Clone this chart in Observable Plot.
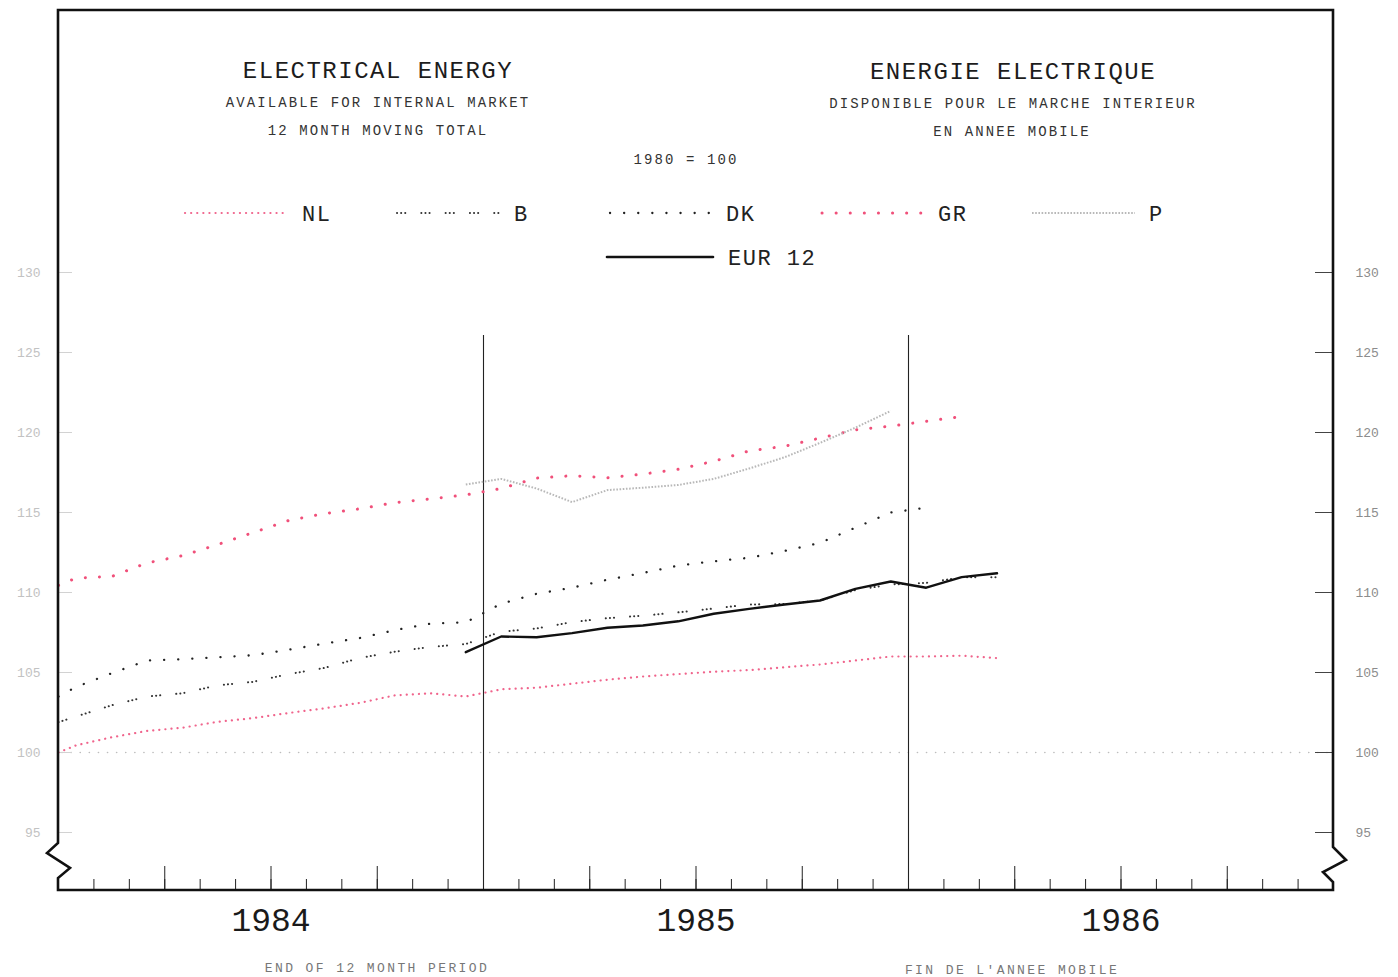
<!DOCTYPE html>
<html>
<head>
<meta charset="utf-8">
<script src="https://cdn.jsdelivr.net/npm/d3@7"></script>
<script src="https://cdn.jsdelivr.net/npm/@observablehq/plot@0.6"></script>
<style>
  html, body { margin: 0; padding: 0; background: #fff; }
  #wrap { position: relative; width: 1398px; height: 977px; font-family: "Liberation Mono", "DejaVu Sans Mono", monospace; }
  #wrap svg.plot { position: absolute; left: 0; top: 0; }
  .t { position: absolute; white-space: nowrap; transform: translate(-50%, -50%); line-height: 1; }
  .title { font-size: 24px; letter-spacing: 1.5px; color: #1c1c1c; }
  .sub { font-size: 14px; letter-spacing: 2.1px; color: #333; }
  .cap { font-size: 13px; letter-spacing: 2.4px; color: #777; }
  #legend { position: absolute; left: 0; top: 0; }
</style>
</head>
<body>
<div id="wrap"></div>
<script>
// ---------- data (index 1980 = 100), monthly 12-month moving totals ----------
// month positions: 0 = start of Jan 1984; monthly values plotted at mid-month
const seriesNames = ["NL", "B", "DK", "GR", "P", "EUR 12"];

const nlFirst = 0, nlStart = 100.0;
const nlValues = [100.45,100.95,101.35,101.55,101.92,102.15,102.47,102.76,103.1,103.57,103.7,103.5,103.95,104.05,104.3,104.55,104.75,104.9,105.05,105.15,105.33,105.5,105.75,106.0,106.0,106.05,105.9];

const bFirst = 0, bStart = 101.9;
const bValues = [102.25,102.95,103.5,103.7,104.2,104.42,104.9,105.28,105.9,106.3,106.6,106.78,107.55,107.75,108.15,108.4,108.55,108.76,109.0,109.25,109.28,109.5,110.15,110.5,110.6,110.95,110.95];

const dkFirst = 0, dkStart = 103.5;
const dkValues = [104.1,104.95,105.75,105.83,105.95,106.08,106.43,106.8,107.15,107.65,108.05,108.14,109.3,109.92,110.3,110.8,111.22,111.68,111.95,112.17,112.6,113.1,114.05,115.0,115.3];

const grFirst = 0, grStart = 110.45;
const grValues = [110.9,111.0,111.85,112.3,113.0,113.75,114.5,114.93,115.23,115.62,115.85,116.1,116.5,117.15,117.3,117.17,117.4,117.7,118.2,118.85,119.14,119.65,120.17,120.4,120.7,121.0];

const pFirst = 11, pStart = null;
const pValues = [116.75,117.1,116.5,115.65,116.4,116.55,116.72,117.1,117.75,118.45,119.35,120.3,121.35];

const eurFirst = 11, eurStart = null;
const eurValues = [106.27,107.25,107.2,107.46,107.8,107.94,108.2,108.67,108.98,109.25,109.5,110.23,110.69,110.3,110.96,111.2];

const yTicks = [95, 100, 105, 110, 115, 120, 125, 130];
const baseLine = [100];
const monthTicks = d3.range(1, 36);
const quarterTicks = [3, 6, 9, 15, 18, 21, 27, 30, 33];
const yearBreaks = [12, 24];
const yearCenters = [6, 18, 30];
const yearLabels = ["1984", "1985", "1986"];

// ---------- build tables ----------
function build(name, first, start, values) {
  const pts = [];
  if (start != null) pts.push({series: name, month: first, value: start});
  values.forEach((v, i) => pts.push({series: name, month: first + i + 0.5, value: v}));
  return pts;
}
const nl = build("NL", nlFirst, nlStart, nlValues);
const b = build("B", bFirst, bStart, bValues);
const dk = build("DK", dkFirst, dkStart, dkValues);
const gr = build("GR", grFirst, grStart, grValues);
const p = build("P", pFirst, pStart, pValues);
const eur = build("EUR 12", eurFirst, eurStart, eurValues);
const years = yearCenters.map((m, i) => ({month: m, label: yearLabels[i]}));

// ---------- styles ----------
const styles = {
  "NL":     {stroke: "#f0648c", strokeWidth: 2.2, strokeDasharray: "0.1,6",  strokeLinecap: "round"},
  "B":      {stroke: "#333",    strokeWidth: 2.0, strokeDasharray: "0.1,4,0.1,4,0.1,16", strokeLinecap: "round"},
  "DK":     {stroke: "#222",    strokeWidth: 2.3, strokeDasharray: "0.1,14", strokeLinecap: "round"},
  "GR":     {stroke: "#f0507a", strokeWidth: 3.0, strokeDasharray: "0.1,14", strokeLinecap: "round"},
  "P":      {stroke: "#b8b8b8", strokeWidth: 2.0, strokeDasharray: "1.6,1.6", strokeLinecap: "butt"},
  "EUR 12": {stroke: "#111",    strokeWidth: 2.4, strokeDasharray: null,     strokeLinecap: "round"}
};

const W = 1398, H = 977, mL = 58, mR = 65, mT = 10, mB = 87;
const innerW = W - mL - mR, innerH = H - mT - mB;

// frame with scale-break zigzags on both sides
function breakFrame(index, scales, values, dims) {
  const L = dims.marginLeft, R = dims.width - dims.marginRight;
  const T = dims.marginTop, B = dims.height - dims.marginBottom;
  const d = `M${L},${B} L${L},${B-12} L${L+12},${B-22} L${L-11},${B-37} L${L},${B-47} L${L},${T} ` +
            `L${R},${T} L${R},${B-43} L${R+13},${B-30} L${R-10},${B-18} L${R},${B-8} L${R},${B} Z`;
  return d3.create("svg:path").attr("d", d).attr("fill", "none")
    .attr("stroke", "#111").attr("stroke-width", 2.6).attr("stroke-linejoin", "miter").node();
}

const lineMark = (data) => Plot.line(data, {x: "month", y: "value", curve: "linear", ...styles[data[0].series]});

const chart = Plot.plot({
  width: W, height: H,
  marginLeft: mL, marginRight: mR, marginTop: mT, marginBottom: mB,
  className: "plot",
  style: {fontFamily: "Liberation Mono, DejaVu Sans Mono, monospace", background: "transparent", overflow: "visible"},
  x: {domain: [0, 36], axis: null},
  y: {domain: [91.375, 146.375], axis: null},
  marks: [
    // baseline 1980 = 100
    Plot.ruleY(baseLine, {y: d => d, stroke: "#bdbdbd", strokeWidth: 1.6, strokeDasharray: "0.1,9", strokeLinecap: "round", insetLeft: 4}),
    // left & right y ticks
    Plot.tickY(yTicks, {y: d => d, stroke: "#d2d2d2", strokeWidth: 1, insetRight: innerW - 14}),
    Plot.tickY(yTicks, {y: d => d, stroke: "#444", strokeWidth: 1, insetLeft: innerW - 18}),
    Plot.axisY(yTicks, {anchor: "left", label: null, tickSize: 0, tickPadding: 18, fontSize: 13, fill: "#c2c2c2", tickFormat: d => String(d)}),
    Plot.axisY(yTicks, {anchor: "right", label: null, tickSize: 0, tickPadding: 22, fontSize: 13, fill: "#8c8c8c", tickFormat: d => String(d)}),
    // month ticks
    Plot.tickX(monthTicks, {x: d => d, stroke: "#222", strokeWidth: 1, insetTop: innerH - 11}),
    Plot.tickX(quarterTicks, {x: d => d, stroke: "#222", strokeWidth: 1, insetTop: innerH - 24}),
    Plot.tickX(yearBreaks, {x: d => d, stroke: "#222", strokeWidth: 1.1, insetTop: 325}),
    // year labels
    Plot.text(years, {x: "month", text: "label", frameAnchor: "bottom", dy: 40, fontSize: 33, fill: "#1a1a1a"}),
    // series
    lineMark(nl), lineMark(b), lineMark(dk), lineMark(gr), lineMark(p), lineMark(eur),
    breakFrame
  ]
});

const wrap = document.getElementById("wrap");
wrap.appendChild(chart);

// ---------- titles & captions ----------
const texts = [
  {cls: "title", x: 378,  y: 72,  s: "ELECTRICAL ENERGY"},
  {cls: "sub",   x: 378,  y: 103, s: "AVAILABLE FOR INTERNAL MARKET"},
  {cls: "sub",   x: 378,  y: 131, s: "12 MONTH MOVING TOTAL"},
  {cls: "title", x: 1013, y: 73,  s: "ENERGIE ELECTRIQUE"},
  {cls: "sub",   x: 1013, y: 104, s: "DISPONIBLE POUR LE MARCHE INTERIEUR"},
  {cls: "sub",   x: 1012, y: 132, s: "EN ANNEE MOBILE"},
  {cls: "sub",   x: 686,  y: 160, s: "1980 = 100"},
  {cls: "cap",   x: 377,  y: 968, s: "END OF 12 MONTH PERIOD"},
  {cls: "cap",   x: 1012, y: 970, s: "FIN DE L'ANNEE MOBILE"}
];
for (const t of texts) {
  const d = document.createElement("div");
  d.className = "t " + t.cls;
  d.style.left = t.x + "px";
  d.style.top = t.y + "px";
  d.textContent = t.s;
  wrap.appendChild(d);
}

// ---------- legend ----------
const legendItems = [
  {name: "NL",     x0: 185, x1: 288, y: 213, lx: 302},
  {name: "B",      x0: 397, x1: 500, y: 213, lx: 514},
  {name: "DK",     x0: 610, x1: 713, y: 213, lx: 726},
  {name: "GR",     x0: 822, x1: 925, y: 213, lx: 938},
  {name: "P",      x0: 1032, x1: 1135, y: 213, lx: 1149},
  {name: "EUR 12", x0: 607, x1: 713, y: 257, lx: 728}
];
const leg = d3.create("svg").attr("id", "legend").attr("width", W).attr("height", 300);
for (const it of legendItems) {
  const st = styles[it.name];
  leg.append("line").attr("x1", it.x0).attr("x2", it.x1).attr("y1", it.y).attr("y2", it.y)
    .attr("stroke", st.stroke).attr("stroke-width", it.name === "EUR 12" ? 2.6 : st.strokeWidth)
    .attr("stroke-dasharray", st.strokeDasharray).attr("stroke-linecap", st.strokeLinecap);
  leg.append("text").attr("x", it.lx).attr("y", it.y).attr("dy", "0.36em")
    .attr("font-family", "Liberation Mono, DejaVu Sans Mono, monospace")
    .attr("font-size", 22).attr("letter-spacing", 1.5).attr("fill", "#222").text(it.name);
}
wrap.appendChild(leg.node());
</script>
</body>
</html>
